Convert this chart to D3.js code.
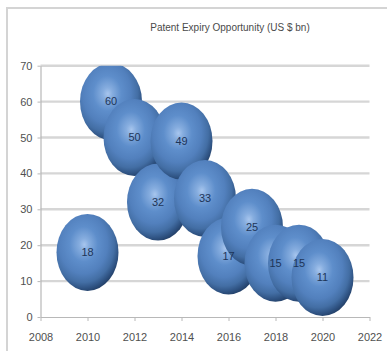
<!DOCTYPE html>
<html>
<head>
<meta charset="utf-8">
<script src="https://cdn.jsdelivr.net/npm/d3@7"></script>
<style>
  html, body { margin: 0; padding: 0; background: #fff; }
  svg { display: block; }
</style>
</head>
<body>
<svg id="chart" width="387" height="351"></svg>
<script>
// Patent expiry opportunity by year (US $ bn)
const years  = [2010, 2011, 2012, 2013, 2014, 2015, 2016, 2017, 2018, 2019, 2020];
const values = [18, 60, 50, 32, 49, 33, 17, 25, 15, 15, 11];
// every bubble carries the same size value
const sizes  = [1, 1, 1, 1, 1, 1, 1, 1, 1, 1, 1];
const xTicks = [2008, 2010, 2012, 2014, 2016, 2018, 2020, 2022];
const yTicks = [0, 10, 20, 30, 40, 50, 60, 70];
const title  = "Patent Expiry Opportunity (US $ bn)";

const svg = d3.select("#chart");
const W = 387, H = 351;
const plot = { left: 40.5, right: 369.5, top: 65.7, bottom: 317 };

const x = d3.scaleLinear().domain([2008, 2022]).range([plot.left, plot.right]);
const y = d3.scaleLinear().domain([0, 70]).range([plot.bottom, plot.top]);
// bubble radii (horizontal / vertical) from size value
const rx = d3.scaleSqrt().domain([0, 1]).range([0, 31]);
const ry = d3.scaleSqrt().domain([0, 1]).range([0, 38.5]);

const defs = svg.append("defs");
// glossy sphere shading: light centre, dark lower-right rim
const grad = defs.append("radialGradient")
  .attr("id", "ball")
  .attr("cx", "42%").attr("cy", "38%").attr("r", "65%")
  .attr("fx", "45%").attr("fy", "40%");
[
  [0.00, "#a8c6ee"],
  [0.12, "#86addf"],
  [0.35, "#5e8ecb"],
  [0.60, "#5280bd"],
  [0.78, "#436ea4"],
  [0.90, "#2f5383"],
  [1.00, "#213d64"]
].forEach(([o, c]) => grad.append("stop").attr("offset", o).attr("stop-color", c));

defs.append("clipPath").attr("id", "plotClip")
  .append("rect")
  .attr("x", plot.left - 40).attr("y", plot.top)
  .attr("width", plot.right - plot.left + 80)
  .attr("height", plot.bottom - plot.top + 40);

// outer chart frame (only top and left edges fall inside the view)
svg.append("rect")
  .attr("x", 7).attr("y", 8).attr("width", W + 20).attr("height", H + 20)
  .attr("fill", "#fff").attr("stroke", "#d4d4d4").attr("stroke-width", 2);

// title
svg.append("text")
  .attr("x", 230).attr("y", 30.5)
  .attr("text-anchor", "middle")
  .attr("font-family", "Liberation Sans, Arial, sans-serif")
  .attr("font-size", 10)
  .attr("fill", "#4a4a4a")
  .text(title);

// horizontal gridlines
svg.append("g").selectAll("line")
  .data(yTicks.filter(t => t > 0))
  .join("line")
  .attr("x1", plot.left).attr("x2", plot.right)
  .attr("y1", d => y(d)).attr("y2", d => y(d))
  .attr("stroke", "#d6d6d6").attr("stroke-width", 2.4);

// y axis
const yAxis = svg.append("g")
  .attr("transform", `translate(${plot.left},0)`)
  .call(d3.axisLeft(y).tickValues(yTicks).tickSize(3).tickPadding(5).tickSizeOuter(0));
// x axis
const xAxis = svg.append("g")
  .attr("transform", `translate(0,${plot.bottom})`)
  .call(d3.axisBottom(x).tickValues(xTicks).tickFormat(d3.format("d")).tickSize(4).tickPadding(12).tickSizeOuter(0));

[yAxis, xAxis].forEach(g => {
  g.select(".domain").attr("stroke", "#b8b8b8").attr("stroke-width", 1.2);
  g.selectAll(".tick line").attr("stroke", "#b8b8b8");
  g.selectAll("text")
    .attr("font-family", "Liberation Sans, Arial, sans-serif")
    .attr("font-size", 11)
    .attr("fill", "#505050");
});

// bubbles, later years drawn on top
const data = years.map((yr, i) => ({ year: yr, value: values[i], size: sizes[i] }));
svg.append("g").attr("clip-path", "url(#plotClip)")
  .selectAll("ellipse")
  .data(data)
  .join("ellipse")
  .attr("cx", d => x(d.year))
  .attr("cy", d => y(d.value))
  .attr("rx", d => rx(d.size))
  .attr("ry", d => ry(d.size))
  .attr("fill", "url(#ball)");

// value labels above every bubble
svg.append("g")
  .selectAll("text")
  .data(data)
  .join("text")
  .attr("x", d => x(d.year))
  .attr("y", d => y(d.value))
  .attr("text-anchor", "middle")
  .attr("dy", "0.35em")
  .attr("font-family", "Liberation Sans Narrow, Liberation Sans, Arial, sans-serif")
  .attr("font-size", 11)
  .attr("fill", "#1e3558")
  .text(d => d.value);
</script>
</body>
</html>
